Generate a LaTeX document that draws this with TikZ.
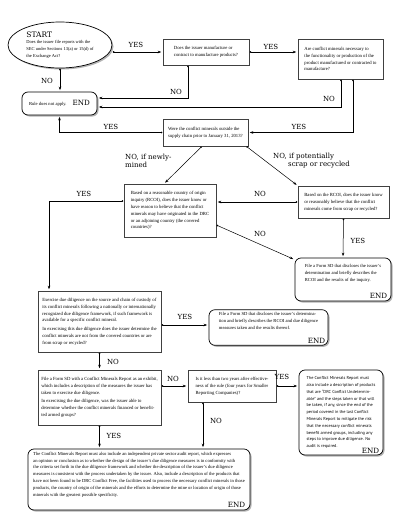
\documentclass[tikz,border=0pt]{standalone}
\usepackage{fontspec}
\setmainfont{Liberation Serif}
\setsansfont{PT Sans}
\newfontfamily\lblfont{DejaVu Serif}
\usetikzlibrary{shapes.geometric,shadows,arrows.meta,positioning}

\tikzset{
  qbox/.style={draw=black!75, line width=0.5pt, fill=white, align=left,
    inner sep=2pt, font=\fontsize{4.7}{6.9}\selectfont},
  stopbox/.style={draw, line width=0.7pt, rounded corners=6pt, fill=white, align=left,
    inner sep=3pt, font=\fontsize{4.6}{6.8}\selectfont,
    drop shadow={shadow xshift=1.5pt, shadow yshift=-1.5pt, opacity=0.6}},
  startnode/.style={ellipse, draw, line width=0.7pt, fill=white, align=left, inner sep=0pt,
    font=\fontsize{4.5}{6.6}\selectfont,
    drop shadow={shadow xshift=1.5pt, shadow yshift=-1.5pt, opacity=0.6}},
  endlbl/.style={font=\lblfont\fontsize{7.2}{8}\selectfont, inner sep=0pt},
  lbl/.style={font=\lblfont\fontsize{7}{8.2}\selectfont, inner sep=0pt, align=left},
  link/.style={{Circle[length=1.6pt]}-{Stealth[length=3.5pt,width=2.6pt]}, line width=0.5pt,
    shorten <=0.5pt, shorten >=1.5pt},
}

\begin{document}
\begin{tikzpicture}[x=1pt,y=-1pt]
  \useasboundingbox (0,0) rectangle (405,530);

  % questions
  \node[startnode, minimum width=104pt, minimum height=46pt] (start) at (60,45)
    {{\lblfont\fontsize{7.5}{9}\selectfont START}\\Does the issuer file reports with the\\SEC under Sections 13(a) or 15(d) of\\the Exchange Act?};
  \node[qbox, minimum width=86pt, minimum height=26pt] (q1) at (206,52)
    {Does the issuer manufacture or\\contract to manufacture products?};
  \node[qbox, minimum width=85pt, minimum height=40pt] (q2) at (340.5,59)
    {Are conflict minerals necessary to\\the functionality or production of the\\product manufactured or contracted to\\manufacture?};
  \node[qbox, minimum width=85pt, minimum height=27pt] (q3) at (205.5,132.5)
    {Were the conflict minerals outside the\\supply chain prior to January 31, 2013?};
  \node[qbox, minimum width=92pt, minimum height=53pt] (q4) at (170,210.5)
    {Based on a reasonable country of origin\\inquiry (RCOI), does the issuer know or\\have reason to believe that the conflict\\minerals may have originated in the DRC\\or an adjoining country (the covered\\countries)?};
  \node[qbox, minimum width=91pt, minimum height=32pt] (q5) at (343.5,202)
    {Based on the RCOI, does the issuer know\\or reasonably believe that the conflict\\minerals come from scrap or recycled?};
  \node[qbox, minimum width=123pt, minimum height=61pt] (q6) at (99.5,321.5)
    {Exercise due diligence on the source and chain of custody of\\its conflict minerals following a nationally or internationally\\recognized due diligence framework, if such framework is\\available for a specific conflict mineral.\\[1.5pt]In exercising this due diligence does the issuer determine the\\conflict minerals are not from the covered countries or are\\from scrap or recycled?};
  \node[qbox, minimum width=123pt, minimum height=55pt] (q7) at (99.5,397.5)
    {File a Form SD with a Conflict Minerals Report as an exhibit,\\which includes a description of the measures the issuer has\\taken to exercise due diligence.\\[1.5pt]In exercising the due diligence, was the issuer able to\\determine whether the conflict minerals financed or benefit-\\ted armed groups?};
  \node[qbox, minimum width=88pt, minimum height=32pt] (q8) at (232,386)
    {Is it less than two years after effective-\\ness of the rule (four years for Smaller\\Reporting Companies)?};

  % end boxes
  \node[stopbox, minimum width=75pt, minimum height=23pt] (stop1) at (59.5,103.5)
    {Rule does not apply.\hspace{6pt}{\lblfont\fontsize{7.2}{8}\selectfont END}};
  \node[stopbox, minimum width=96pt, minimum height=43pt] (stop2) at (343,279.5)
    {File a Form SD that discloses the issuer's\\determination and briefly describes the\\RCOI and the results of the inquiry.\\[6pt]};
  \node[stopbox, minimum width=119pt, minimum height=35pt] (stop3) at (268.5,327.5)
    {File a Form SD that discloses the issuer's determina-\\tion and briefly describes the RCOI and due diligence\\measures taken and the results thereof.\\[6pt]};
  \node[stopbox, minimum width=84pt, minimum height=85pt,
    font=\sffamily\fontsize{4.3}{6.8}\selectfont] (stop4) at (341,412.5)
    {The Conflict Minerals Report must\\also include a description of products\\that are “DRC Conflict Undetermin-\\able” and the steps taken or that will\\be taken, if any, since the end of the\\period covered in the last Conflict\\Minerals Report to mitigate the risk\\that the necessary conflict minerals\\benefit armed groups, including any\\steps to improve due diligence. No\\audit is required.};
  \node[stopbox, minimum width=222pt, minimum height=61pt] (stop5) at (139,479.5)
    {The Conflict Minerals Report must also include an independent private sector audit report, which expresses\\an opinion or conclusion as to whether the design of the issuer's due diligence measures is in conformity with\\the criteria set forth in the due diligence framework and whether the description of the issuer's due diligence\\measures is consistent with the process undertaken by the issuer. Also, include a description of the products that\\have not been found to be DRC Conflict Free, the facilities used to process the necessary conflict minerals in those\\products, the country of origin of the minerals and the efforts to determine the mine or location of origin of those\\minerals with the greatest possible specificity.\\[4pt]};
  \node[endlbl, anchor=south east] (end2) at ([shift={(-4pt,3pt)}]stop2.south east) {END};
  \node[endlbl, anchor=south east] (end3) at ([shift={(-3pt,2pt)}]stop3.south east) {END};
  \node[endlbl, anchor=south east] (end4) at ([shift={(-4pt,2pt)}]stop4.south east) {END};
  \node[endlbl, anchor=south east] (end5) at ([shift={(-5pt,3pt)}]stop5.south east) {END};

  % connectors
  \draw[link] (start.east |- q1.west) -- (q1.west);
  \draw[link] (q1.east) -- (q2.west |- q1.east);
  \draw[link] (start.south) -- (start.south |- stop1.north);
  \draw[link] ([xshift=-18pt]q1.south) |- ([yshift=5.5pt]stop1.east);
  \draw[link] ([xshift=0.5pt]q2.south) |- ([yshift=-3.5pt]stop1.east);
  \draw[link] ([xshift=12.5pt]q2.south) |- (q3.east);
  \draw[link] (q3.west) -| (stop1.south);
  \draw[link] ([xshift=-3.5pt]q3.south) -- ([xshift=-6pt]q4.north);
  \draw[link] ([xshift=-2pt]q3.south east) -- (q5.north west);
  \draw[link] (q5.west) -- (q4.east |- q5.west);
  \draw[link] ([yshift=-14.5pt]q4.east) -- ([yshift=-2pt]stop2.north west);
  \draw[link] (q5.south) -- (stop2.north);
  \draw[link] ([yshift=9.5pt]q4.west) -| ([xshift=-50.5pt]q6.north);
  \draw[link] ([yshift=-3.5pt]q6.east) -- ([yshift=2.5pt]stop3.west);
  \draw[link] (q6.south) -- (q7.north);
  \draw[link] ([yshift=11.5pt]q7.east) -- (q8.west);
  \draw[link] (q8.east) -- (stop4.west |- q8.east);
  \draw[link] ([xshift=-29pt]q8.south) -- ([xshift=-29pt]q8.south |- stop5.north);
  \draw[link] (q7.south) -- (q7.south |- stop5.north);

  % labels
  \node[lbl] (lyes1) at (136,44.5) {YES};
  \node[lbl] (lno1) at (47,81) {NO};
  \node[lbl] (lyes2) at (271,46.5) {YES};
  \node[lbl] (lno2) at (176,92) {NO};
  \node[lbl] (lno3) at (329,99) {NO};
  \node[lbl] (lyes3) at (299,127) {YES};
  \node[lbl] (lyes4) at (111,127) {YES};
  \node[lbl, anchor=west] (lnonew) at (125,160.5) {NO, if newly-\\mined};
  \node[lbl, anchor=west] (lnoscrap) at (273,160.5) {NO, if potentially\\\hspace*{15pt}scrap or recycled};
  \node[lbl] (lno4) at (260,194) {NO};
  \node[lbl] (lno5) at (260,234) {NO};
  \node[lbl] (lyes5) at (358,241) {YES};
  \node[lbl] (lyes6) at (84,194) {YES};
  \node[lbl] (lyes7) at (185,317) {YES};
  \node[lbl] (lno6) at (113,362) {NO};
  \node[lbl] (lno7) at (173,379) {NO};
  \node[lbl] (lyes8) at (282,377) {YES};
  \node[lbl] (lno8) at (216,421) {NO};
  \node[lbl] (lyes9) at (114,436) {YES};
\end{tikzpicture}
\end{document}
